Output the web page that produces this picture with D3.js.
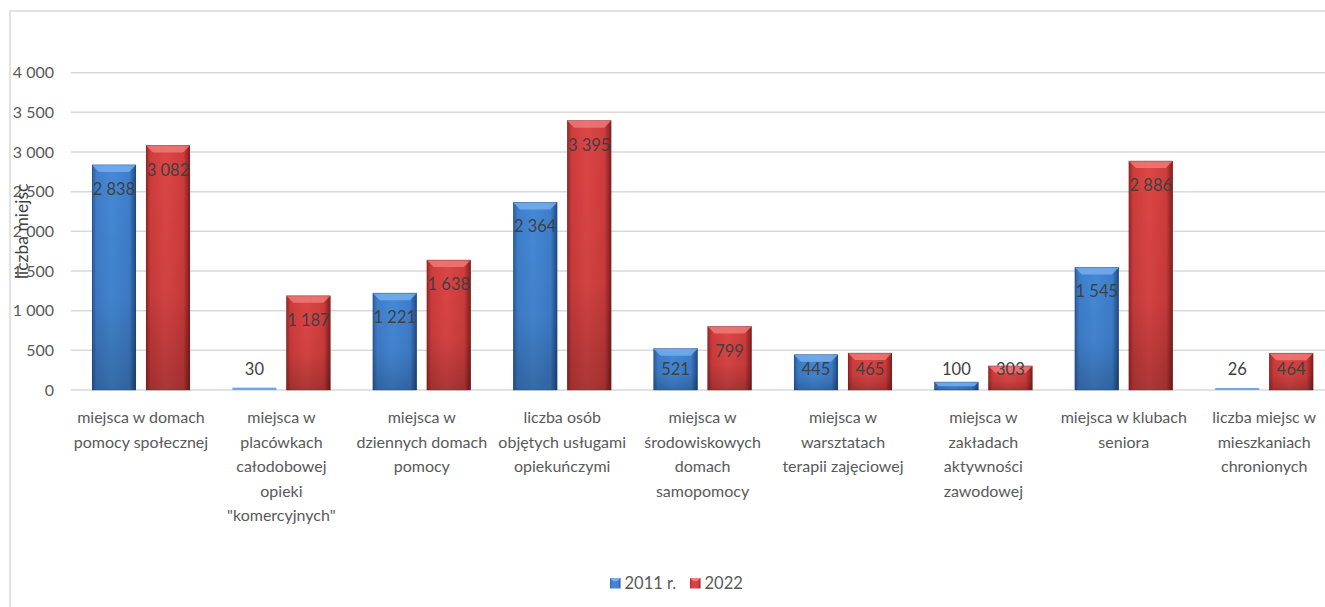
<!DOCTYPE html>
<html><head><meta charset="utf-8">
<script src="https://cdn.jsdelivr.net/npm/d3@7"></script>
<style>
html,body{margin:0;padding:0;background:#fff;}
svg{display:block;font-family:Lato,"Open Sans",sans-serif;}
</style></head>
<body>
<svg id="chart" width="1325" height="607"></svg>
<script>
const categories = [
  "miejsca w domach pomocy społecznej",
  "miejsca w placówkach całodobowej opieki \"komercyjnych\"",
  "miejsca w dziennych domach pomocy",
  "liczba osób objętych usługami opiekuńczymi",
  "miejsca w środowiskowych domach samopomocy",
  "miejsca w warsztatach terapii zajęciowej",
  "miejsca w zakładach aktywności zawodowej",
  "miejsca w klubach seniora",
  "liczba miejsc w mieszkaniach chronionych"
];
const categoryLines = [
  ["miejsca w domach","pomocy społecznej"],
  ["miejsca w","placówkach","całodobowej","opieki","\"komercyjnych\""],
  ["miejsca w","dziennych domach","pomocy"],
  ["liczba osób","objętych usługami","opiekuńczymi"],
  ["miejsca w","środowiskowych","domach","samopomocy"],
  ["miejsca w","warsztatach","terapii zajęciowej"],
  ["miejsca w","zakładach","aktywności","zawodowej"],
  ["miejsca w klubach","seniora"],
  ["liczba miejsc w","mieszkaniach","chronionych"]
];
const seriesNames = ["2011 r.", "2022"];
const values2011 = [2838, 30, 1221, 2364, 521, 445, 100, 1545, 26];
const values2022 = [3082, 1187, 1638, 3395, 799, 465, 303, 2886, 464];
const yTicks = [0, 500, 1000, 1500, 2000, 2500, 3000, 3500, 4000];
const yTitle = "liczba miejsc";

const series = [values2011, values2022];
const svg = d3.select("#chart");

const locale = d3.formatLocale({decimal:",", thousands:" ", grouping:[3], currency:["",""]});
const fmt = locale.format(",d");

const x0 = d3.scaleBand().domain(categories).range([70.8, 1334.4]).paddingInner(0).paddingOuter(0);
const x1 = d3.scaleBand().domain(seriesNames).range([0, x0.bandwidth()]).paddingInner(10/54).paddingOuter(0.3925);
const y = d3.scaleLinear().domain([0, 4000]).range([390, 72.7]);

const defs = svg.append("defs");
const pal = [
  {id:"b", edgeL:"#2c5c9a", mid:"#4589d6", mid2:"#3e7ecb", edgeR:"#21497f", top:"#78b0ef", thin:"#6fa6e6"},
  {id:"r", edgeL:"#9a2626", mid:"#dc4646", mid2:"#cf3c3c", edgeR:"#7e1e1e", top:"#f07c7c", thin:"#e06060"}
];
pal.forEach(p => {
  const g = defs.append("linearGradient").attr("id","h"+p.id).attr("x1","0").attr("x2","1").attr("y1","0").attr("y2","0");
  [[0,p.edgeL],[0.1,p.mid2],[0.45,p.mid],[0.85,p.mid2],[1,p.edgeR]].forEach(s=>g.append("stop").attr("offset",s[0]).attr("stop-color",s[1]));
});
const vg = defs.append("linearGradient").attr("id","vshade").attr("x1","0").attr("x2","0").attr("y1","0").attr("y2","1");
vg.append("stop").attr("offset",0).attr("stop-color","#000").attr("stop-opacity",0);
vg.append("stop").attr("offset",0.6).attr("stop-color","#000").attr("stop-opacity",0.05);
vg.append("stop").attr("offset",1).attr("stop-color","#000").attr("stop-opacity",0.22);

// border
svg.append("rect").attr("x",10).attr("y",11).attr("width",1340).attr("height",620)
  .attr("fill","none").attr("stroke","#d9d9d9").attr("stroke-width",1.5);

// gridlines
svg.append("g").selectAll("line").data(yTicks).join("line")
  .attr("x1", x0.range()[0]).attr("x2", x0.range()[1])
  .attr("y1", d=>y(d)).attr("y2", d=>y(d))
  .attr("stroke","#d9d9d9").attr("stroke-width",1.5);

// y tick labels
svg.append("g").selectAll("text").data(yTicks).join("text")
  .attr("x", 54).attr("y", d=>y(d)).attr("dy","0.35em")
  .attr("text-anchor","end").attr("font-size",16).attr("fill","#595959")
  .text(d=>fmt(d));

// bars
const groups = svg.append("g").selectAll("g").data(categories).join("g")
  .attr("transform", c=>`translate(${x0(c)},0)`);

groups.each(function(c, ci){
  const g = d3.select(this);
  series.forEach((vals, si) => {
    const p = pal[si];
    const v = vals[ci];
    const bx = x1(seriesNames[si]), bw = x1.bandwidth();
    const top = y(v), h = y(0) - y(v);
    if (h < 5) {
      g.append("rect").attr("x",bx).attr("y",top).attr("width",bw).attr("height",h).attr("fill",p.thin);
    } else {
      g.append("rect").attr("x",bx).attr("y",top).attr("width",bw).attr("height",h).attr("fill",`url(#h${p.id})`);
      g.append("rect").attr("x",bx).attr("y",top).attr("width",bw).attr("height",h).attr("fill","url(#vshade)");
      const bv = Math.min(7, h/2);
      g.append("polygon")
        .attr("points", [[bx,top],[bx+bw,top],[bx+bw-bv,top+bv],[bx+bv,top+bv]].map(d=>d.join(",")).join(" "))
        .attr("fill", p.top).attr("opacity",0.8);
      g.append("rect").attr("x",bx+0.25).attr("y",top).attr("width",bw-0.5).attr("height",h)
        .attr("fill","none").attr("stroke",p.edgeR).attr("stroke-width",0.6).attr("opacity",0.7);
    }
    g.append("text").attr("x", bx+bw/2).attr("y", Math.min(top+30, 375))
      .attr("text-anchor","middle").attr("font-size",16.5).attr("fill","#404040")
      .text(fmt(v));
  });
  const t = g.append("text").attr("text-anchor","middle").attr("font-size",16).attr("fill","#595959");
  categoryLines[ci].forEach((ln, li) => {
    t.append("tspan").attr("x", x0.bandwidth()/2).attr("y", 423 + li*24.5).text(ln);
  });
});

// y title
svg.append("text").attr("transform",`translate(28,${(y(0)+y(4000))/2}) rotate(-90)`)
  .attr("text-anchor","middle").attr("font-size",17.5).attr("fill","#404040")
  .text(yTitle);

// legend
const leg = svg.append("g");
const legX = [610, 690];
seriesNames.forEach((n, i) => {
  const p = pal[i];
  leg.append("rect").attr("x",legX[i]).attr("y",578).attr("width",10.5).attr("height",10.5).attr("fill",`url(#h${p.id})`);
  leg.append("polygon").attr("points",`${legX[i]},578 ${legX[i]+10.5},578 ${legX[i]+7.5},581 ${legX[i]+3},581`).attr("fill",p.top);
  leg.append("text").attr("x",legX[i]+14.5).attr("y",588.5).attr("font-size",16.5).attr("fill","#595959").text(n);
});
</script>
</body></html>
